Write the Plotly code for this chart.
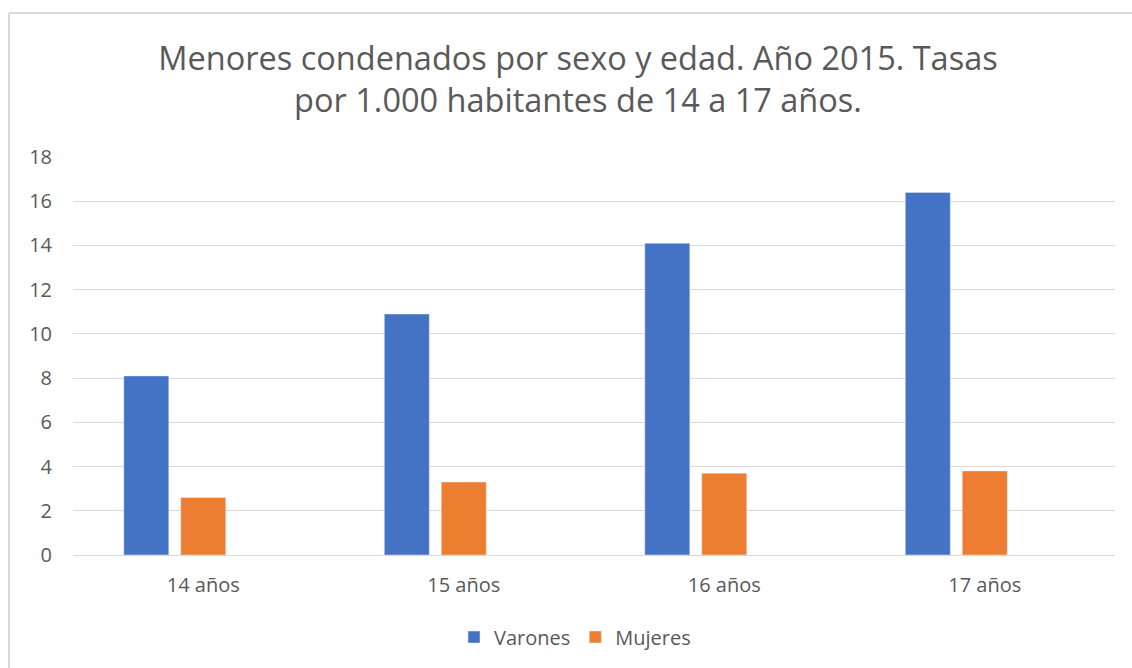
import plotly.graph_objects as go

categories = ["14 años", "15 años", "16 años", "17 años"]
varones = [8.1, 10.9, 14.1, 16.4]
mujeres = [2.6, 3.3, 3.7, 3.8]
empty_series = [None, None, None, None]

W, H = 1132, 668
L, R, T, B = 73, 17, 157, 113
pw, ph = W - L - R, H - T - B

def px_x(x):
    return (x - L) / pw

def px_y(y):
    return (H - B - y) / ph

txt = "#595959"
grid = "#d9d9d9"
font = "Open Sans"

fig = go.Figure()
fig.add_trace(go.Bar(x=categories, y=varones, name="Varones", marker_color="#4472C4"))
fig.add_trace(go.Bar(x=categories, y=mujeres, name="Mujeres", marker_color="#ED7D31"))
fig.add_trace(go.Bar(x=categories, y=empty_series, name="", showlegend=False, marker_color="#A5A5A5"))

fig.update_layout(
    width=W, height=H,
    margin=dict(l=L, r=R, t=T, b=B),
    paper_bgcolor="white", plot_bgcolor="white",
    barmode="group", bargap=0.344, bargroupgap=0.21,
    font=dict(family=font, color=txt, size=20),
    title=dict(
        text="Menores condenados por sexo y edad. Año 2015. Tasas<br>por 1.000 habitantes de 14 a 17 años.",
        x=578 / W, xanchor="center", y=1 - 70 / H, yanchor="middle",
        font=dict(family=font, size=32.5, color=txt),
    ),
    xaxis=dict(showgrid=False, showline=False, ticks="", tickfont=dict(size=20, color=txt),
               ticklabelstandoff=16),
    yaxis=dict(range=[0, 18], dtick=2, showgrid=True, gridcolor=grid, gridwidth=1,
               zeroline=True, zerolinecolor=grid, zerolinewidth=1, showline=False,
               ticks="", tickfont=dict(size=20, color=txt), ticklabelstandoff=20),
    legend=dict(orientation="h", x=px_x(575), xanchor="center", y=px_y(637), yanchor="middle",
                font=dict(size=20, color=txt), itemwidth=30, traceorder="normal"),
    shapes=[
        dict(type="line", xref="paper", yref="paper", x0=px_x(9), x1=px_x(1140), y0=px_y(13), y1=px_y(13),
             line=dict(color=grid, width=2)),
        dict(type="line", xref="paper", yref="paper", x0=px_x(9), x1=px_x(9), y0=px_y(13), y1=px_y(680),
             line=dict(color=grid, width=2)),
    ],
)

fig.write_html("out.html", config={"displayModeBar": False},
               post_script="document.body.style.margin='0';")
